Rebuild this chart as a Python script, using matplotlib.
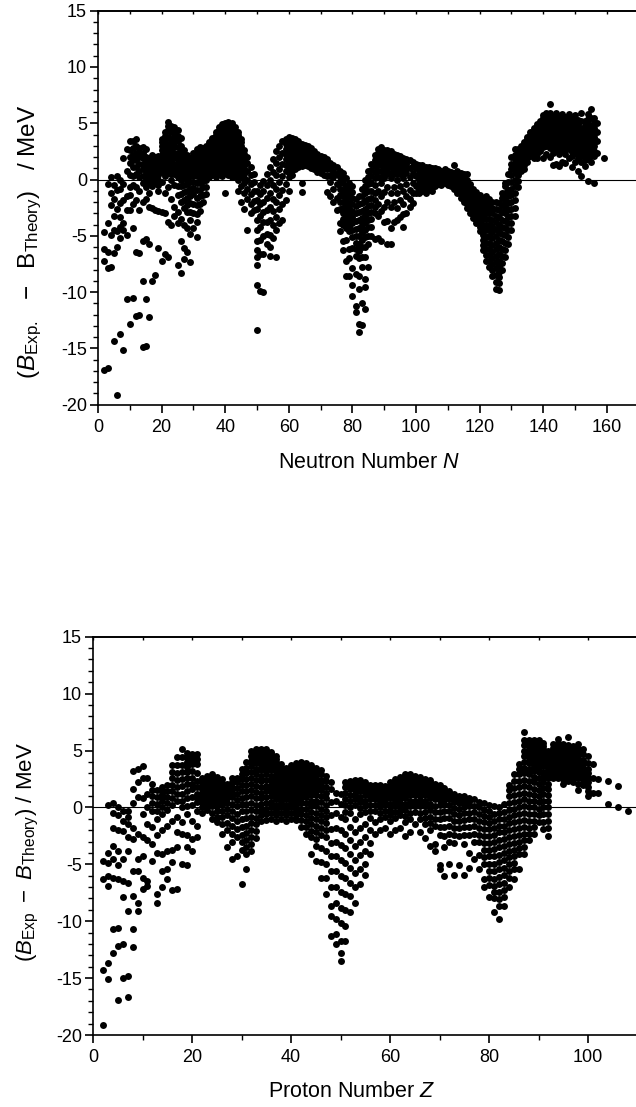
import numpy as np
import matplotlib
matplotlib.use("Agg")
import matplotlib.pyplot as plt
from matplotlib.ticker import MultipleLocator

plt.rcParams['font.family'] = ['Liberation Sans', 'DejaVu Sans']
plt.rcParams['mathtext.fontset'] = 'custom'
plt.rcParams['mathtext.rm'] = 'Liberation Sans'
plt.rcParams['mathtext.it'] = 'Liberation Sans:italic'
plt.rcParams['mathtext.bf'] = 'Liberation Sans:bold'
plt.rcParams['axes.unicode_minus'] = False

# ---------------- Top panel: deviation vs neutron number N ----------------
n_seg1 = list(range(2, 31))
dev_n_seg1 = [
    [-16.9, -7.2, -6.2, -4.7],
    [-16.7, -7.9, -6.4, -3.9, -0.4],
    [-7.8, -4.9, -2.3, -1.2, 0.2],
    [-14.3, -6.5, -4.5, -3.2, -1.7, -0.5],
    [-19.1, -6.0, -4.6, -2.6, -0.9, 0.3],
    [-13.7, -5.2, -4.2, -3.3, -2.1, -0.8, 0.0],
    [-15.1, -4.5, -3.9, -1.8, -0.4, 1.9],
    [-10.6, -4.9, -2.7, -1.5, 0.8, 2.7],
    [-12.8, -2.7, -1.4, -0.7, 1.5, 2.6, 3.4],
    [-10.5, -4.3, -2.2, -0.5, 1.1, 2.2, 3.4],
    [-12.1, -6.4, -1.8, -0.7, 0.5, 1.1, 1.7, 2.4, 3.6],
    [-12.0, -6.5, -2.7, -1.0, 0.2, 1.4, 2.0, 2.8],
    [-14.9, -9.0, -5.5, -2.0, -0.3, 0.9, 1.9, 2.9],
    [-14.8, -10.6, -5.3, -1.7, -0.7, 0.4, 1.2, 2.0, 2.7],
    [-12.2, -5.7, -2.4, -1.2, -0.3, 0.5, 1.2, 1.9],
    [-9.0, -2.5, -0.6, 0.3, 1.0, 1.7, 2.2],
    [-8.5, -2.7, -0.3, 0.5, 1.3, 2.0],
    [-6.1, -2.8, -1.0, 0.0, 0.8, 1.5, 2.1],
    [-7.2, -2.9, -0.2, 0.7, 1.5, 2.2, 3.0, 3.6],
    [-6.6, -3.0, -1.2, 0.3, 1.2, 2.0, 2.8, 3.5, 4.2],
    [-6.9, -3.8, -0.7, 0.6, 1.5, 2.3, 3.2, 4.4, 5.1],
    [-4.0, -1.7, 0.0, 1.0, 1.9, 2.8, 3.6, 4.8],
    [-3.2, -2.4, -0.5, 0.5, 1.4, 2.4, 3.3, 4.1, 4.7],
    [-7.6, -3.9, -2.9, -1.4, 0.2, 1.0, 1.9, 2.9, 3.9, 4.4],
    [-8.3, -5.5, -3.5, -2.0, -0.6, 0.5, 1.4, 2.3, 3.0, 3.7],
    [-7.1, -6.1, -4.0, -2.5, -1.1, 0.1, 1.0, 1.8, 2.6],
    [-6.4, -4.3, -2.9, -1.6, -0.4, 0.5, 1.3, 2.2],
    [-7.3, -4.8, -3.6, -2.1, -0.8, 0.3, 1.1, 1.9],
    [-4.3, -3.0, -1.3, -0.2, 0.8, 1.6, 2.4],
]

n_seg2 = list(range(31, 65))
dev_n_seg2 = [
    [-5.1, -3.8, -2.3, -0.9, 0.3, 1.2, 2.0, 2.7],
    [-2.8, -1.5, -0.3, 0.7, 1.5, 2.3, 2.9],
    [-2.0, -0.7, 0.4, 1.3, 2.1, 2.8],
    [-1.3, 0.0, 0.9, 1.7, 2.4, 3.0],
    [0.2, 0.9, 1.6, 2.2, 2.8, 3.3],
    [0.4, 1.0, 1.6, 2.2, 2.8, 3.3, 3.7],
    [0.2, 0.9, 1.5, 2.1, 2.7, 3.3, 3.8, 4.2],
    [0.5, 1.1, 1.7, 2.3, 2.9, 3.4, 3.9, 4.4, 4.7],
    [0.3, 0.9, 1.6, 2.2, 2.8, 3.4, 3.9, 4.4, 4.9],
    [-1.2, 0.6, 1.2, 1.8, 2.4, 3.0, 3.6, 4.1, 4.6, 5.0],
    [0.4, 1.0, 1.7, 2.3, 2.9, 3.5, 4.0, 4.5, 5.1],
    [0.2, 0.8, 1.5, 2.1, 2.7, 3.3, 3.9, 4.5, 5.0],
    [0.3, 0.9, 1.5, 2.2, 2.8, 3.4, 4.0, 4.7],
    [-1.0, 0.0, 0.7, 1.3, 1.9, 2.5, 3.1, 3.7, 4.2],
    [-2.0, -0.6, 0.2, 0.9, 1.6, 2.3, 3.0, 3.6],
    [-2.6, -1.2, -0.3, 0.5, 1.2, 1.9, 2.6],
    [-4.5, -1.7, -0.8, 0.0, 0.8, 1.5, 2.0],
    [-3.0, -2.2, -1.3, -0.4, 0.4, 1.1],
    [-2.7, -1.9, -1.0, -0.2, 0.5],
    [-13.4, -9.4, -7.6, -6.9, -6.3, -5.5, -4.5, -3.6, -2.6, -1.8, -1.0],
    [-9.9, -6.6, -5.4, -4.2, -3.2, -2.2, -1.3, -0.5],
    [-10.0, -6.6, -5.0, -3.8, -2.9, -2.0, -1.0, -0.1],
    [-5.7, -4.8, -3.8, -2.7, -1.6, -0.5, 0.5],
    [-6.8, -6.0, -4.9, -3.6, -2.4, -1.2, 0.0, 1.1],
    [-5.2, -4.0, -2.8, -1.7, -0.5, 0.7, 1.8],
    [-6.9, -4.5, -3.3, -2.0, -0.8, 0.4, 1.5, 2.5],
    [-3.9, -2.6, -1.4, -0.2, 0.9, 2.0, 3.0],
    [-3.6, -2.2, -0.9, 0.3, 1.4, 2.4, 3.4],
    [-1.8, -0.4, 0.8, 1.8, 2.7, 3.6],
    [-1.0, 0.2, 1.2, 2.1, 3.0, 3.8],
    [0.4, 1.3, 2.2, 3.0, 3.7],
    [0.9, 1.7, 2.5, 3.1, 3.6],
    [1.1, 1.8, 2.5, 3.0, 3.4],
    [-1.1, -0.3, 1.2, 1.9, 2.5, 3.2],
]

n_seg3 = list(range(65, 101))
dev_n_seg3 = [
    [1.3, 1.9, 2.5, 3.1],
    [1.2, 1.8, 2.4, 3.0],
    [1.0, 1.6, 2.2, 2.8],
    [0.9, 1.5, 2.0, 2.5],
    [0.7, 1.3, 1.8, 2.3],
    [0.6, 1.1, 1.6, 2.1],
    [0.4, 1.0, 1.5, 2.0],
    [-1.1, 0.3, 0.9, 1.4, 1.8],
    [-1.5, -0.2, 0.4, 1.0, 1.5],
    [-2.0, -0.8, 0.2, 0.8, 1.3],
    [-2.7, -1.6, -0.4, 0.5, 1.1],
    [-4.6, -3.9, -2.6, -1.4, -0.3, 0.8],
    [-6.3, -5.5, -4.0, -3.0, -2.0, -0.9, 0.2, 0.6],
    [-8.6, -7.2, -5.4, -4.3, -3.4, -2.3, -1.2, 0.1],
    [-8.6, -7.0, -6.2, -4.6, -3.7, -2.6, -1.5, -0.3],
    [-10.3, -9.4, -7.9, -6.1, -5.1, -3.9, -2.8, -1.6, -0.6],
    [-11.8, -11.2, -8.4, -6.8, -5.6, -4.4, -3.0, -1.7],
    [-13.5, -12.8, -9.7, -8.6, -7.0, -5.7, -4.3, -2.9, -1.5],
    [-12.9, -11.0, -7.8, -6.0, -4.7, -3.4, -2.1, -0.8],
    [-11.5, -9.5, -8.8, -6.9, -5.1, -3.8, -2.6, -1.2, 0.0],
    [-7.8, -5.7, -4.2, -3.0, -1.7, -0.4, 0.8],
    [-5.0, -3.5, -2.3, -1.0, 0.3, 1.4],
    [-5.3, -3.0, -1.8, -0.5, 0.7, 1.7, 2.2],
    [-5.2, -3.2, -2.2, -1.0, 0.2, 1.3, 2.1, 2.7],
    [-5.5, -2.8, -1.5, -0.3, 0.8, 1.7, 2.4, 2.9],
    [-3.8, -2.4, -1.1, 0.1, 1.1, 1.9, 2.6],
    [-5.7, -3.7, -2.0, -0.7, 0.5, 1.4, 2.1, 2.6],
    [-5.7, -4.3, -2.4, -1.2, 0.1, 1.1, 1.8, 2.5],
    [-3.8, -2.0, -0.7, 0.5, 1.4, 2.3],
    [-3.6, -2.5, -1.2, 0.0, 1.0, 1.8, 2.2],
    [-3.3, -1.8, -0.6, 0.5, 1.4, 2.1],
    [-4.2, -3.1, -2.2, -1.0, 0.1, 1.0, 1.9],
    [-3.0, -1.5, -0.4, 0.6, 1.4, 1.8],
    [-2.4, -1.7, -0.9, 0.2, 1.0, 1.7],
    [-2.1, -1.2, -0.3, 0.6, 1.2, 1.6],
    [-1.2, -0.6, 0.3, 1.0, 1.4],
]

n_seg4 = list(range(101, 158)) + [159]
dev_n_seg4 = [
    [-1.2, -0.4, 0.3, 0.9, 1.3],
    [-1.0, -0.2, 0.5, 1.0, 1.3],
    [-1.2, -0.6, 0.1, 0.7, 1.1],
    [-0.8, 0.0, 0.6, 1.1],
    [-1.0, -0.3, 0.3, 0.8, 1.0],
    [-0.6, 0.0, 0.5, 1.0],
    [-0.4, 0.2, 0.6, 0.9],
    [-0.5, 0.0, 0.4, 0.8],
    [-0.3, 0.2, 0.6, 0.9],
    [-0.5, 0.0, 0.4, 0.8],
    [-0.6, -0.1, 0.3, 0.7],
    [-0.8, -0.3, 0.2, 0.6, 1.3],
    [-1.2, -0.6, -0.1, 0.4, 0.8],
    [-1.6, -1.0, -0.4, 0.1, 0.6],
    [-2.0, -1.4, -0.8, -0.3, 0.5],
    [-2.5, -1.8, -1.2, -0.6, 0.0, 0.5],
    [-3.0, -2.3, -1.6, -1.0, -0.4],
    [-3.4, -2.7, -2.1, -1.4, -0.8],
    [-3.9, -3.2, -2.5, -1.8, -1.1],
    [-4.6, -3.8, -3.0, -2.2, -1.4],
    [-6.3, -5.4, -4.5, -3.5, -2.6, -1.7],
    [-7.2, -6.2, -5.1, -4.0, -3.0, -2.0, -1.5],
    [-7.8, -6.7, -5.6, -4.5, -3.5, -2.5, -1.7],
    [-8.6, -7.5, -6.4, -5.2, -4.1, -3.0, -2.0],
    [-9.7, -8.5, -7.3, -6.2, -5.0, -3.8, -2.6, -2.0],
    [-9.8, -9.2, -8.2, -7.2, -6.0, -4.7, -3.3, -2.1],
    [-8.0, -6.8, -5.5, -4.2, -2.9, -1.6, -1.2],
    [-6.9, -5.6, -4.3, -3.0, -1.8, -0.6, -0.3],
    [-5.7, -4.5, -3.3, -2.1, -0.9, 0.5],
    [-4.5, -3.2, -2.0, -0.8, 0.4, 1.4, 2.0],
    [-3.2, -1.8, -0.6, 0.6, 1.5, 2.2, 2.7],
    [-0.7, 0.4, 1.3, 2.0, 2.7],
    [0.8, 1.5, 2.2, 2.8, 3.0],
    [0.9, 1.6, 2.3, 2.9, 3.3],
    [1.6, 2.3, 2.9, 3.4, 3.8],
    [2.1, 2.7, 3.3, 3.8, 4.2],
    [1.9, 2.6, 3.2, 3.8, 4.3, 4.6],
    [1.9, 2.7, 3.3, 3.9, 4.4, 4.9],
    [2.5, 3.1, 3.7, 4.3, 4.8, 5.2],
    [1.9, 2.9, 3.5, 4.1, 4.6, 5.2, 5.7],
    [2.3, 3.0, 3.6, 4.2, 4.8, 5.4, 5.9],
    [2.0, 2.8, 3.5, 4.1, 4.7, 5.3, 5.9, 6.7],
    [1.3, 2.4, 3.2, 3.8, 4.4, 5.0, 5.6],
    [1.4, 2.6, 3.4, 4.0, 4.6, 5.2, 5.9],
    [1.2, 2.3, 3.0, 3.7, 4.3, 4.9, 5.6],
    [1.6, 2.5, 3.2, 3.8, 4.4, 5.0, 5.8],
    [1.5, 2.3, 3.0, 3.6, 4.3, 4.9, 5.6],
    [1.9, 2.7, 3.4, 4.0, 4.6, 5.2, 5.8],
    [1.1, 2.1, 2.8, 3.5, 4.1, 4.8, 5.4],
    [1.6, 2.4, 3.1, 3.8, 4.4, 5.1, 5.7],
    [0.8, 1.9, 2.7, 3.4, 4.0, 4.7, 5.3],
    [0.3, 1.6, 2.5, 3.2, 3.9, 4.6, 5.9],
    [1.2, 2.2, 3.0, 3.7, 4.4, 5.2],
    [-0.1, 1.8, 2.7, 3.5, 4.2, 5.0, 5.8],
    [1.6, 2.5, 3.3, 4.0, 4.8, 6.3],
    [-0.3, 2.1, 3.0, 3.8, 4.6, 5.5],
    [2.4, 3.4, 4.2, 5.0],
    [1.95],
]

# additional nuclei read from the densest parts of the top panel
n_fill_a = [10, 11, 12, 13, 14, 15, 16, 17, 18, 19, 20, 21, 22, 23, 24, 25, 26,
            27, 28, 29, 30, 31, 32, 33, 34]
dev_n_fill_a = [
    [0.4, 2.0], [0.3, 1.7, 2.8], [3.0], [0.8, 2.4], [0.3, 1.4, 2.4],
    [0.0, 0.8, 1.6], [0.1, 0.85, 1.55], [-0.1, 0.65, 1.35], [0.1, 0.9, 1.65],
    [-0.5, 0.4, 1.15, 1.8], [1.1, 1.85, 2.6, 3.3], [0.75, 1.6, 2.4, 3.15, 3.85],
    [1.05, 1.9, 2.75, 3.8, 4.75], [0.5, 1.45, 2.35, 3.2, 4.2], [0.95, 1.9, 2.85, 3.7],
    [-0.6, 0.6, 1.45, 2.4, 3.4], [-1.3, 0.0, 0.95, 1.85, 2.65],
    [-1.8, -0.5, 0.55, 1.4, 2.2], [-2.25, -1.0, 0.05, 0.9, 1.75],
    [-2.85, -1.45, -0.25, 0.7, 1.5], [-2.15, -0.75, 0.3, 1.2, 2.0],
    [-3.05, -1.6, -0.3, 0.75, 1.6, 2.35], [-2.15, -0.9, 0.2, 1.1, 1.9, 2.6],
    [-1.35, -0.15, 0.85, 1.7, 2.45], [-0.65, 0.45, 1.3, 2.05, 2.7],
]

n_fill_b = [35, 36, 37, 38, 39, 40, 41, 42, 43, 44, 45, 46,
            59, 60, 61, 62, 63, 64, 65, 66, 67, 68, 69, 70]
dev_n_fill_b = [
    [0.55, 1.25, 1.9, 2.5, 3.05], [0.7, 1.3, 1.9, 2.5, 3.05, 3.5],
    [0.55, 1.2, 1.8, 2.4, 3.0, 3.55, 4.0], [0.8, 1.4, 2.0, 2.6, 3.15, 3.65, 4.15],
    [0.6, 1.25, 1.9, 2.5, 3.1, 3.65, 4.15, 4.65],
    [0.9, 1.5, 2.1, 2.7, 3.3, 3.85, 4.35, 4.8],
    [0.7, 1.35, 2.0, 2.6, 3.2, 3.75, 4.25, 4.8],
    [0.5, 1.15, 1.8, 2.4, 3.0, 3.6, 4.2, 4.75],
    [0.6, 1.2, 1.85, 2.5, 3.1, 3.7, 4.35], [0.35, 1.0, 1.6, 2.2, 2.8, 3.4, 3.95],
    [0.55, 1.25, 1.95, 2.65, 3.3], [0.1, 0.85, 1.55, 2.25],
    [1.3, 2.25, 3.15], [0.7, 1.65, 2.55, 3.4], [0.85, 1.75, 2.6, 3.35],
    [1.3, 2.1, 2.8], [1.45, 2.15, 2.75], [1.55, 2.2, 2.8], [1.6, 2.2, 2.8],
    [1.5, 2.1, 2.7], [1.3, 1.9, 2.5], [1.2, 1.75, 2.25], [1.0, 1.55, 2.05],
    [0.85, 1.35, 1.85],
]

n_fill_c = [76, 77, 78, 79, 80, 81, 82, 83, 84, 85, 86, 87, 88, 89, 90, 91, 92,
            93, 94, 95, 96, 97, 101, 102, 103, 104, 105, 106, 107, 108, 109, 110, 111]
dev_n_fill_c = [
    [-2.0, -0.85, 0.25], [-3.5, -2.5, -1.45, -0.35], [-3.85, -2.85, -1.75, -0.55],
    [-4.15, -3.15, -2.05, -0.9], [-4.5, -3.35, -2.2, -1.1],
    [-6.2, -5.0, -3.7, -2.35], [-6.35, -5.0, -3.6, -2.2],
    [-6.9, -5.35, -4.05, -2.75, -1.45], [-6.0, -4.45, -3.2, -1.9, -0.6],
    [-5.0, -3.6, -2.35, -1.05, 0.2], [-4.2, -2.9, -1.65, -0.35, 0.85],
    [-2.4, -1.15, 0.1, 1.2], [0.75, 1.7, 2.4], [0.25, 1.25, 2.05, 2.65],
    [0.6, 1.5, 2.25], [0.95, 1.75, 2.35], [0.6, 1.45, 2.15], [0.95, 1.85],
    [0.5, 1.4, 2.0], [0.95, 1.75], [0.55, 1.45], [1.0, 1.6],
    [-0.8, 0.0, 0.6, 1.1], [-0.6, 0.15, 0.75, 1.15], [-0.9, -0.25, 0.4, 0.9],
    [-0.4, 0.3, 0.85], [-0.65, 0.0, 0.55, 0.9], [-0.3, 0.25, 0.75],
    [-0.1, 0.4, 0.75], [-0.25, 0.2, 0.6], [-0.05, 0.4, 0.75], [-0.25, 0.2, 0.6],
    [-0.35, 0.1, 0.5],
]

n_fill_d = list(range(113, 157))
dev_n_fill_d = [
    [-0.9, -0.35, 0.15, 0.6], [-1.3, -0.7, -0.15, 0.35], [-1.7, -1.1, -0.55, 0.1],
    [-2.15, -1.5, -0.9, -0.3], [-2.65, -1.95, -1.3, -0.7], [-3.05, -2.4, -1.75, -1.1],
    [-3.55, -2.85, -2.15, -1.45], [-4.2, -3.4, -2.6, -1.8],
    [-5.85, -4.95, -4.0, -3.05, -2.15], [-6.7, -5.6, -4.5, -3.5, -2.5],
    [-7.25, -6.15, -5.05, -4.0, -3.0, -2.1], [-8.05, -6.95, -5.8, -4.65, -3.55, -2.5],
    [-9.1, -7.9, -6.75, -5.6, -4.4, -3.2], [-8.7, -7.7, -6.6, -5.35, -4.0, -2.7],
    [-7.4, -6.15, -4.85, -3.55, -2.25], [-6.25, -4.95, -3.65, -2.4, -1.2],
    [-5.1, -3.9, -2.7, -1.5, -0.2], [-3.85, -2.6, -1.4, -0.2, 0.9],
    [-2.5, -1.2, 0.0, 1.05, 1.85], [-0.15, 0.85, 1.65, 2.35], [1.15, 1.85, 2.5],
    [1.25, 1.95, 2.6, 3.1], [1.95, 2.6, 3.15, 3.6], [2.4, 3.0, 3.55, 4.0],
    [2.25, 2.9, 3.5, 4.05], [2.3, 3.0, 3.6, 4.15, 4.65], [2.8, 3.4, 4.0, 4.55, 5.0],
    [3.2, 3.8, 4.35, 4.9, 5.45], [3.3, 3.9, 4.5, 5.1, 5.65], [3.15, 3.8, 4.4, 5.0, 5.6],
    [2.8, 3.5, 4.1, 4.7, 5.3], [3.0, 3.7, 4.3, 4.9, 5.55], [2.65, 3.35, 4.0, 4.6, 5.25],
    [2.85, 3.5, 4.1, 4.7, 5.4], [2.65, 3.3, 3.95, 4.6, 5.25], [3.05, 3.7, 4.3, 4.9, 5.5],
    [2.45, 3.15, 3.8, 4.45, 5.1], [2.75, 3.45, 4.1, 4.75, 5.4],
    [2.3, 3.05, 3.7, 4.35, 5.0], [2.05, 2.85, 3.55, 4.25, 5.2],
    [1.7, 2.6, 3.35, 4.05, 4.8], [2.25, 3.1, 3.85, 4.6, 5.4],
    [2.05, 2.9, 3.65, 4.4, 5.5], [2.55, 3.4, 4.2, 5.0],
]

# ---------------- Bottom panel: deviation vs proton number Z ----------------
z_seg1 = list(range(2, 31))
dev_z_seg1 = [
    [-19.1, -14.3, -6.3, -4.7],
    [-15.1, -13.7, -6.9, -6.0, -4.9, -4.0, 0.2],
    [-12.8, -10.7, -6.2, -4.5, -3.4, -1.8, -0.5, 0.35],
    [-16.9, -12.2, -10.6, -6.3, -5.1, -3.8, -2.0, -0.7, 0.0],
    [-15.0, -12.0, -7.9, -6.5, -4.5, -2.1, -1.2, -0.3],
    [-16.7, -14.8, -9.1, -6.6, -3.8, -2.6, -1.5, -0.8, -0.3],
    [-12.3, -10.7, -7.8, -5.6, -2.8, -1.8, 0.4, 1.6, 3.2],
    [-9.1, -8.4, -5.6, -4.5, -2.3, 0.9, 2.2, 3.4],
    [-7.2, -6.2, -4.3, -2.6, -0.6, 0.8, 2.6, 3.6],
    [-6.9, -6.5, -2.9, -1.5, 0.0, 1.2, 2.6],
    [-4.7, -3.2, -1.7, -0.3, 1.0, 2.1],
    [-8.4, -7.6, -4.0, -2.4, -1.0, 0.3, 1.5],
    [-7.0, -5.6, -4.1, -2.0, -0.6, 0.6, 1.2, 1.8],
    [-6.3, -5.4, -3.8, -1.6, -0.2, 0.9, 2.0],
    [-7.3, -4.8, -3.7, -1.2, 0.2, 1.4, 2.6, 3.7],
    [-7.2, -3.5, -2.2, -0.8, 0.6, 1.8, 3.0, 4.4],
    [-5.0, -2.3, -1.3, 0.0, 1.2, 2.5, 3.7, 5.1],
    [-5.1, -3.5, -2.4, -0.6, 0.8, 2.1, 3.1, 4.0, 4.8],
    [-3.8, -2.8, -1.2, 0.2, 1.6, 2.6, 3.8, 4.7],
    [-2.6, -1.6, -0.3, 0.5, 1.2, 2.3, 3.8, 4.7],
    [-0.5, 0.5, 1.3, 2.0, 2.6],
    [-0.2, 0.6, 1.4, 2.1, 2.8],
    [-1.0, 0.1, 0.9, 1.7, 2.4, 2.9],
    [-1.3, -0.3, 0.5, 1.3, 2.0, 2.7],
    [-2.3, -0.8, 0.2, 1.0, 1.8, 2.5],
    [-3.5, -2.0, -0.7, 0.4, 1.3, 2.1],
    [-4.5, -3.0, -1.6, -0.3, 0.9, 1.8, 2.6],
    [-4.3, -2.6, -1.2, 0.1, 1.2, 2.2],
    [-6.7, -3.7, -2.4, -1.0, 0.3, 1.4, 2.5, 3.4],
]

z_seg2 = list(range(31, 60))
dev_z_seg2 = [
    [-5.4, -4.1, -2.9, -1.6, -0.3, 0.9, 2.0, 3.0, 4.0],
    [-3.8, -2.6, -1.4, -0.2, 1.0, 2.1, 3.1, 4.1, 5.0],
    [-2.7, -1.5, -0.3, 0.8, 1.9, 2.9, 3.9, 4.6, 5.1],
    [-1.2, -0.2, 0.8, 1.8, 2.8, 3.7, 4.5, 5.1],
    [-1.1, -0.1, 0.9, 1.9, 2.9, 3.8, 4.6, 5.1],
    [-1.0, 0.0, 1.0, 1.9, 2.8, 3.7, 4.4, 4.9],
    [-1.2, -0.2, 0.7, 1.6, 2.5, 3.3, 4.0, 4.5],
    [-1.0, 0.0, 0.9, 1.7, 2.5, 3.2, 3.8],
    [-1.2, -0.2, 0.7, 1.5, 2.2, 2.9, 3.5],
    [-1.0, 0.0, 0.9, 1.7, 2.4, 3.0, 3.7],
    [-1.1, -0.2, 0.6, 1.4, 2.2, 2.9, 3.5, 3.9],
    [-1.7, -0.6, 0.4, 1.3, 2.1, 2.8, 3.4, 4.0],
    [-2.3, -1.2, -0.1, 0.9, 1.8, 2.6, 3.3, 3.9],
    [-4.1, -2.6, -1.5, -0.4, 0.6, 1.5, 2.3, 3.0, 3.7],
    [-4.7, -3.4, -2.2, -1.0, 0.1, 1.1, 2.0, 2.8, 3.5],
    [-6.2, -4.8, -3.6, -2.4, -1.2, -0.1, 1.0, 2.0, 2.9, 3.3],
    [-7.6, -6.2, -5.0, -3.8, -2.6, -1.4, -0.3, 0.8, 1.8, 2.8],
    [-11.3, -9.5, -8.7, -7.0, -5.6, -4.3, -3.1, -1.9, -0.7, 0.5, 1.6, 2.2],
    [-12.0, -11.1, -9.8, -8.4, -7.0, -5.6, -4.3, -3.0, -1.8, -0.5, 0.6, 1.3],
    [-13.5, -12.8, -11.7, -10.2, -8.8, -7.4, -6.0, -4.6, -3.3, -2.0, -0.8, 0.3, 1.2],
    [-11.7, -10.4, -9.0, -7.6, -6.2, -4.9, -3.6, -2.3, -1.0, 0.2, 1.3, 2.2],
    [-9.2, -7.8, -6.6, -5.3, -4.1, -2.9, -1.7, -0.5, 0.6, 1.6, 2.3],
    [-8.4, -7.0, -5.8, -4.6, -3.4, -2.2, -1.0, 0.2, 1.2, 2.0, 2.4],
    [-6.7, -5.4, -4.2, -3.0, -1.8, -0.6, 0.5, 1.4, 2.1, 2.4],
    [-5.9, -5.0, -3.8, -2.6, -1.5, -0.4, 0.6, 1.5, 2.2],
    [-4.1, -3.1, -2.0, -0.9, 0.2, 1.2, 2.0],
    [-2.3, -1.3, -0.3, 0.7, 1.5, 2.0],
    [-2.0, -1.0, 0.0, 0.9, 1.6, 2.0],
    [-1.8, -0.8, 0.2, 1.1, 1.9],
]

z_seg3 = list(range(60, 93))
dev_z_seg3 = [
    [-2.3, -1.2, -0.2, 0.8, 1.6, 2.2],
    [-2.0, -0.9, 0.1, 1.0, 1.8, 2.5],
    [-1.8, -0.7, 0.3, 1.2, 2.0, 2.7],
    [-2.5, -1.3, -0.2, 0.8, 1.7, 2.4, 2.9],
    [-2.2, -1.0, 0.1, 1.1, 1.9, 2.5, 2.9],
    [-1.5, -0.4, 0.6, 1.5, 2.2, 2.8],
    [-2.2, -1.0, 0.1, 1.0, 1.8, 2.5, 2.7],
    [-2.7, -1.5, -0.4, 0.6, 1.5, 2.2, 2.5],
    [-3.4, -2.0, -0.8, 0.3, 1.3, 2.0, 2.4],
    [-3.8, -3.2, -1.6, -0.4, 0.7, 1.5, 2.1],
    [-5.4, -5.1, -2.4, -1.0, 0.2, 1.1, 1.8, 2.0],
    [-6.0, -3.5, -2.5, -0.9, 0.3, 1.2, 1.7],
    [-5.0, -3.0, -1.6, -0.3, 0.7, 1.4],
    [-5.9, -3.1, -1.8, -0.6, 0.5, 1.2],
    [-5.1, -2.5, -1.2, -0.1, 0.8, 1.0],
    [-5.9, -3.2, -1.7, -0.5, 0.5, 1.0],
    [-5.3, -4.0, -2.4, -1.0, 0.1, 0.8],
    [-4.5, -3.0, -1.6, -0.4, 0.7],
    [-5.4, -4.2, -3.0, -1.8, -0.6, 0.5],
    [-7.0, -6.3, -5.0, -3.7, -2.5, -1.3, -0.2, 0.4],
    [-7.9, -6.8, -5.6, -4.3, -3.1, -1.9, -0.8, 0.2],
    [-9.2, -8.0, -6.9, -5.6, -4.3, -3.0, -1.8, -0.6, 0.1],
    [-9.8, -8.7, -7.4, -6.1, -4.8, -3.5, -2.2, -1.0, 0.0],
    [-8.7, -7.9, -6.6, -5.3, -4.0, -2.8, -1.6, -0.4, 0.3],
    [-7.0, -6.2, -5.0, -3.8, -2.6, -1.4, -0.2, 1.0, 2.0],
    [-6.3, -5.4, -4.3, -3.1, -1.9, -0.7, 0.5, 1.7, 2.9],
    [-5.4, -4.1, -3.0, -1.8, -0.6, 0.6, 1.8, 2.9, 3.8],
    [-4.1, -2.9, -1.7, -0.5, 0.7, 1.9, 3.0, 4.0, 5.0, 5.9, 6.6],
    [-2.9, -1.8, -0.6, 0.6, 1.8, 2.9, 3.9, 4.8, 5.4, 5.9],
    [-2.3, -1.2, 0.0, 1.1, 2.2, 3.2, 4.1, 4.9, 5.5, 5.9],
    [-1.3, -0.1, 1.0, 2.1, 3.1, 4.0, 4.8, 5.4, 5.9],
    [-1.9, -0.6, 0.6, 1.7, 2.7, 3.6, 4.4, 5.1, 5.7],
    [-2.5, -1.2, 0.0, 1.1, 2.1, 3.0, 3.8, 4.5, 5.0],
]

z_seg4 = [93, 94, 95, 96, 97, 98, 99, 100, 101, 102, 104, 106, 108]
dev_z_seg4 = [
    [2.6, 3.4, 4.0, 4.6, 5.2],
    [2.6, 3.3, 4.0, 4.7, 5.4, 6.0],
    [2.1, 2.9, 3.6, 4.3, 5.0, 5.6],
    [2.3, 3.0, 3.7, 4.4, 5.1, 6.2],
    [2.2, 3.0, 3.7, 4.4, 5.0],
    [1.5, 2.6, 3.3, 4.0, 4.7, 5.6],
    [2.0, 2.8, 3.5, 4.2, 5.1],
    [1.0, 1.8, 2.6, 3.4, 4.5],
    [1.3, 2.6, 3.8],
    [1.3, 2.5],
    [0.3, 2.3],
    [0.0, 1.9],
    [-0.3],
]

# additional nuclei read from the densest parts of the bottom panel
z_fill_a = list(range(12, 48))
dev_z_fill_a = [
    [0.35, 1.55], [-0.35, 0.9], [0.0, 0.9, 1.5], [0.35, 1.45],
    [0.8, 2.0, 3.15], [1.2, 2.4, 3.7], [0.6, 1.85, 3.1, 4.4],
    [0.1, 1.45, 2.6, 3.55, 4.4], [0.9, 2.1, 3.2, 4.25], [0.85, 1.75, 3.05, 4.25],
    [0.0, 0.9, 1.65, 2.3], [0.2, 1.0, 1.75, 2.45], [-0.45, 0.5, 1.3, 2.05, 2.65],
    [-0.8, 0.1, 0.9, 1.65, 2.35], [-1.5, -0.3, 0.6, 1.4, 2.15],
    [-1.35, -0.15, 0.85, 1.7], [-2.3, -0.95, 0.3, 1.35, 2.2],
    [-1.9, -0.55, 0.65, 1.7, 2.6], [-3.05, -1.7, -0.35, 0.85, 1.95, 2.95],
    [-3.5, -2.25, -0.95, 0.3, 1.45, 2.5, 3.5],
    [-3.2, -2.0, -0.8, 0.4, 1.55, 2.6, 3.6, 4.55],
    [-2.1, -0.9, 0.25, 1.35, 2.4, 3.4, 4.25, 4.85],
    [-0.7, 0.3, 1.3, 2.3, 3.25, 4.1, 4.8], [-0.6, 0.4, 1.4, 2.4, 3.35, 4.2, 4.85],
    [-0.5, 0.5, 1.45, 2.35, 3.25, 4.05, 4.65], [-0.7, 0.25, 1.15, 2.05, 2.9, 3.65, 4.25],
    [-0.5, 0.45, 1.3, 2.1, 2.85, 3.5], [-0.7, 0.25, 1.1, 1.85, 2.55, 3.2],
    [-0.5, 0.45, 1.3, 2.05, 2.7, 3.35], [-0.65, 0.2, 1.0, 1.8, 2.55, 3.2, 3.7],
    [-1.15, -0.1, 0.85, 1.7, 2.45, 3.1, 3.7], [-1.75, -0.65, 0.4, 1.35, 2.2, 2.95, 3.6],
    [-2.05, -0.95, 0.1, 1.05, 1.9, 2.65, 3.35], [-2.8, -1.6, -0.45, 0.6, 1.55, 2.4, 3.15],
    [-1.8, -0.65, 0.45, 1.5, 2.45], [-2.0, -0.85, 0.25, 1.3, 2.3],
]

z_fill_b = list(range(51, 79))
dev_z_fill_b = [
    [-0.4, 0.75, 1.75], [0.05, 1.1, 1.95], [0.7, 1.6, 2.2], [-0.05, 0.95, 1.75, 2.25],
    [0.1, 1.05, 1.85], [-0.35, 0.7, 1.6], [0.2, 1.1, 1.75], [-0.5, 0.45, 1.25, 1.8],
    [-0.3, 0.65, 1.5], [-0.7, 0.3, 1.2, 1.9], [-0.4, 0.55, 1.4, 2.15],
    [-0.2, 0.75, 1.6, 2.35], [-0.75, 0.3, 1.25, 2.05, 2.65], [-0.45, 0.6, 1.5, 2.2, 2.7],
    [0.1, 1.05, 1.85, 2.5], [-0.45, 0.55, 1.4, 2.15], [-0.95, 0.1, 1.05, 1.85],
    [-1.4, -0.25, 0.8, 1.65, 2.2], [-1.0, 0.15, 1.1, 1.8], [-1.7, -0.4, 0.65, 1.45],
    [-1.7, -0.3, 0.75, 1.45], [-2.3, -0.95, 0.2, 1.05], [-2.45, -1.2, -0.05, 0.85],
    [-1.85, -0.65, 0.35], [-2.45, -1.1, 0.0, 0.75], [-1.7, -0.45, 0.45],
    [-2.3, -1.0, 0.15], [-2.4, -1.2, 0.0],
]

z_fill_c = list(range(79, 101))
dev_z_fill_c = [
    [-4.35, -3.1, -1.9, -0.75], [-6.2, -4.95, -3.7, -2.5, -1.35, -0.3],
    [-7.45, -6.25, -4.95, -3.65, -2.4, -1.2],
    [-8.05, -6.75, -5.45, -4.15, -2.85, -1.6, -0.5],
    [-7.25, -5.95, -4.65, -3.4, -2.2, -1.0],
    [-5.6, -4.4, -3.2, -2.0, -0.8, 0.4, 1.5],
    [-4.85, -3.7, -2.5, -1.3, -0.1, 1.1, 2.3],
    [-3.55, -2.4, -1.2, 0.0, 1.2, 2.35, 3.35],
    [-3.5, -2.3, -1.1, 0.1, 1.3, 2.45, 3.5, 4.5, 5.45],
    [-2.35, -1.2, 0.0, 1.2, 2.35, 3.4, 4.35, 5.1, 5.65],
    [-1.75, -0.6, 0.55, 1.65, 2.7, 3.65, 4.5, 5.2, 5.75],
    [-0.7, 0.45, 1.55, 2.6, 3.55, 4.4, 5.1, 5.65],
    [-1.25, 0.0, 1.15, 2.2, 3.15, 4.0, 4.75, 5.4],
    [-1.85, -0.6, 0.55, 1.6, 2.55, 3.4, 4.15, 4.75],
    [3.0, 3.7, 4.3, 4.9, 5.6], [2.95, 3.65, 4.35, 5.05, 5.7],
    [2.5, 3.25, 3.95, 4.65, 5.3], [2.65, 3.35, 4.05, 4.75, 5.5],
    [2.6, 3.35, 4.05, 4.7, 5.4], [2.05, 2.95, 3.65, 4.35, 5.1],
    [2.4, 3.15, 3.85, 4.65], [1.4, 2.2, 3.0, 3.9],
]


def expand(xs, groups):
    px, py = [], []
    for x, g in zip(xs, groups):
        for v in g:
            px.append(x)
            py.append(v)
    return px, py


def collect(parts):
    X, Y = [], []
    for xs, gs in parts:
        a, b = expand(xs, gs)
        X += a
        Y += b
    return np.array(X), np.array(Y)


topX, topY = collect([(n_seg1, dev_n_seg1), (n_seg2, dev_n_seg2),
                      (n_seg3, dev_n_seg3), (n_seg4, dev_n_seg4),
                      (n_fill_a, dev_n_fill_a), (n_fill_b, dev_n_fill_b),
                      (n_fill_c, dev_n_fill_c), (n_fill_d, dev_n_fill_d)])
botX, botY = collect([(z_seg1, dev_z_seg1), (z_seg2, dev_z_seg2),
                      (z_seg3, dev_z_seg3), (z_seg4, dev_z_seg4),
                      (z_fill_a, dev_z_fill_a), (z_fill_b, dev_z_fill_b),
                      (z_fill_c, dev_z_fill_c)])

W, H = 636, 1107
fig = plt.figure(figsize=(W / 100, H / 100), dpi=100)

ax1 = fig.add_axes([98 / W, 1 - 404.7 / H, (638.6 - 98) / W, (404.7 - 10.7) / H])
ax2 = fig.add_axes([93 / W, 1 - 1035 / H, (637.5 - 93) / W, (1035 - 636.7) / H])


def style(ax, xmax):
    ax.set_xlim(0, xmax)
    ax.set_ylim(-20, 15)
    ax.axhline(0, color='black', lw=0.8, zorder=1)
    for side in ['left', 'bottom', 'top']:
        ax.spines[side].set_linewidth(1.2)
    ax.spines['right'].set_visible(False)
    ax.xaxis.set_major_locator(MultipleLocator(20))
    ax.xaxis.set_minor_locator(MultipleLocator(10))
    ax.yaxis.set_major_locator(MultipleLocator(5))
    ax.yaxis.set_minor_locator(MultipleLocator(1))
    ax.tick_params(axis='both', which='major', direction='out', length=6,
                   width=1.2, labelsize=13, top=False, right=False)
    ax.tick_params(axis='both', which='minor', direction='out', length=3.5,
                   width=1.0, top=False, right=False)
    ax.tick_params(axis='x', which='major', pad=4)
    ax.tick_params(axis='y', which='major', pad=2)
    sec = ax.secondary_xaxis('top')
    sec.xaxis.set_major_locator(MultipleLocator(10))
    sec.tick_params(direction='in', length=2.5, width=1.0, labeltop=False)
    sec.spines['top'].set_linewidth(1.2)


style(ax1, 170)
style(ax2, 110)

ax1.scatter(topX, topY, s=25, c='black', linewidths=0, zorder=3)
ax2.scatter(botX, botY, s=25, c='black', linewidths=0, zorder=3)

fig.text(30 / W, 1 - 241.5 / H,
         r'$(B_{\mathrm{Exp.}}\ \ -\ \ \mathrm{B}_{\mathrm{Theory}})$   / MeV',
         rotation=90, ha='center', va='center', fontsize=17.5)
fig.text(369 / W, 1 - 462.7 / H, r'Neutron Number $N$',
         ha='center', va='center', fontsize=15.5)

fig.text(28 / W, 1 - 852 / H,
         r'$(B_{\mathrm{Exp}}\ -\ B_{\mathrm{Theory}})$ / MeV',
         rotation=90, ha='center', va='center', fontsize=16)
fig.text(352 / W, 1 - 1091.7 / H, r'Proton Number $Z$',
         ha='center', va='center', fontsize=15.5)

fig.savefig('out.png', dpi=100)
